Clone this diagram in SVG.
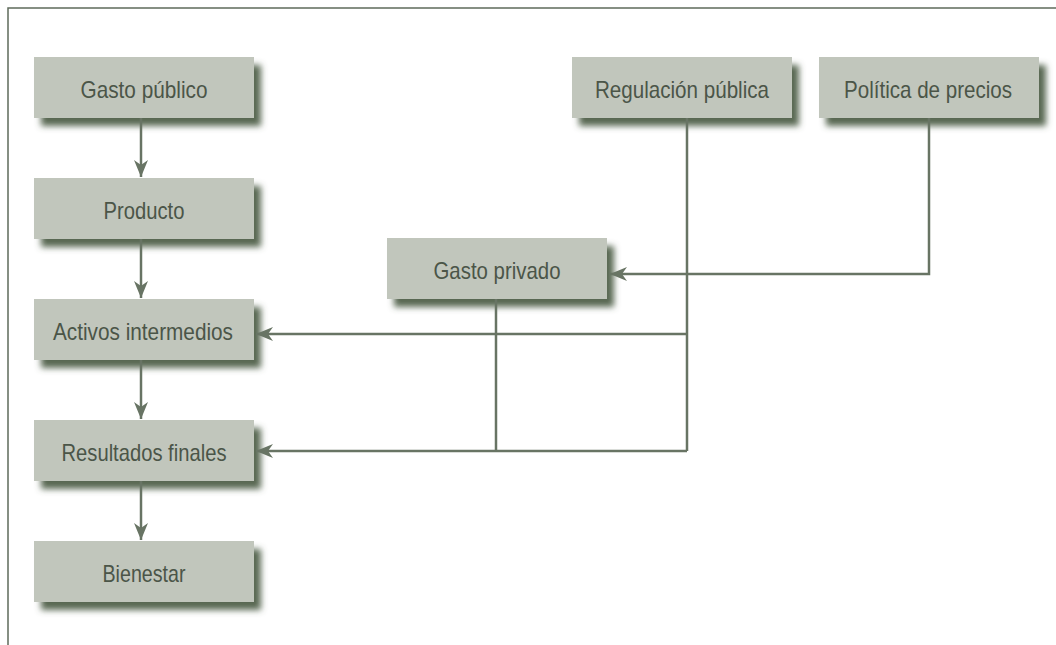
<svg xmlns="http://www.w3.org/2000/svg" width="1056" height="645" viewBox="0 0 1056 645">
<style>
.box{fill:#c1c6bc;filter:url(#sh)}
.lbl{font-family:"Liberation Sans",Arial,sans-serif;font-size:24px;fill:#4b5548;text-anchor:middle}
.con{fill:none;stroke:#687464;stroke-width:2.5}
.arr{marker-end:url(#ah)}
.frame{fill:none;stroke:#5f6b5b;stroke-width:1.5}
</style>
<defs>
<filter id="sh" x="-10%" y="-20%" width="130%" height="160%">
<feDropShadow dx="7" dy="8" stdDeviation="3" flood-color="#4f5e4a" flood-opacity="0.95"/>
</filter>
<marker id="ah" markerUnits="userSpaceOnUse" markerWidth="20" markerHeight="20" viewBox="-18 -9 20 18" refX="0" refY="0" orient="auto">
<path d="M0,0 L-17,-7 L-12,0 L-17,7 Z" fill="#687464"/>
</marker>
</defs>
<rect width="1056" height="645" fill="#ffffff"/>
<path class="frame" d="M8,645 V8 H1056"/>
<g id="n-gasto-publico"><rect class="box" x="34" y="57" width="220" height="61"/><text class="lbl" x="144" y="98" textLength="127" lengthAdjust="spacingAndGlyphs">Gasto público</text></g>
<g id="n-producto"><rect class="box" x="34" y="178" width="220" height="61"/><text class="lbl" x="144" y="219" textLength="81" lengthAdjust="spacingAndGlyphs">Producto</text></g>
<g id="n-activos"><rect class="box" x="34" y="299" width="220" height="61"/><text class="lbl" x="143" y="340" textLength="180" lengthAdjust="spacingAndGlyphs">Activos intermedios</text></g>
<g id="n-resultados"><rect class="box" x="34" y="420" width="220" height="61"/><text class="lbl" x="144" y="461" textLength="165" lengthAdjust="spacingAndGlyphs">Resultados finales</text></g>
<g id="n-bienestar"><rect class="box" x="34" y="541" width="220" height="61"/><text class="lbl" x="144" y="582" textLength="83" lengthAdjust="spacingAndGlyphs">Bienestar</text></g>
<g id="n-regulacion"><rect class="box" x="572" y="57" width="220" height="61"/><text class="lbl" x="682" y="98" textLength="174" lengthAdjust="spacingAndGlyphs">Regulación pública</text></g>
<g id="n-politica"><rect class="box" x="819" y="57" width="220" height="61"/><text class="lbl" x="928" y="98" textLength="168" lengthAdjust="spacingAndGlyphs">Política de precios</text></g>
<g id="n-gasto-privado"><rect class="box" x="387" y="238" width="220" height="61"/><text class="lbl" x="497" y="279" textLength="127" lengthAdjust="spacingAndGlyphs">Gasto privado</text></g>
<g id="connectors">
<path class="con arr" d="M141,118 V177"/>
<path class="con arr" d="M141,239 V298"/>
<path class="con arr" d="M141,360 V419"/>
<path class="con arr" d="M141,481 V540"/>
<path class="con" d="M687,118 V451"/>
<path class="con arr" d="M687,334 H256"/>
<path class="con arr" d="M687,451 H256"/>
<path class="con" d="M496,299 V451"/>
<path class="con arr" d="M929,118 V274 H610"/>
</g>
</svg>
